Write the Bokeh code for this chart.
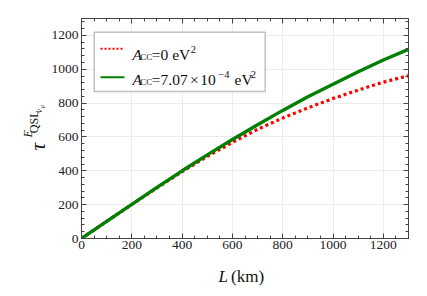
import numpy as np
from bokeh.plotting import figure
from bokeh.models import (LinearAxis, Label, BoxAnnotation, Arrow, FixedTicker,
                          Range1d)
from bokeh.embed import file_html
from bokeh.resources import INLINE

# ---- data ----
L_km = [0, 100, 200, 300, 400, 500, 600, 700, 800, 900, 1000, 1100, 1200, 1300]
tau_A0 = [0, 101, 201, 299, 395, 485, 568, 645, 712, 772, 827, 877, 924, 962]
tau_A707 = [0, 101, 202, 302, 400, 494, 585, 672, 757, 838, 912, 985, 1055, 1118]

x_ticks = [0, 200, 400, 600, 800, 1000, 1200]
y_ticks = [0, 200, 400, 600, 800, 1000, 1200]

SERIF = "Liberation Serif"

p = figure(width=427, height=296, output_backend="svg", toolbar_location=None,
           x_range=Range1d(0, 1300), y_range=Range1d(0, 1300),
           min_border_left=81, min_border_right=19, min_border_top=18,
           min_border_bottom=58)
p.background_fill_color = "white"
p.border_fill_color = "white"
p.outline_line_color = "#444444"
p.outline_line_width = 1

xt = FixedTicker(ticks=x_ticks, minor_ticks=list(range(0, 1301, 50)))
yt = FixedTicker(ticks=y_ticks, minor_ticks=list(range(0, 1301, 40)))

for ax in p.xaxis:
    ax.ticker = xt
for ax in p.yaxis:
    ax.ticker = yt

def style_axis(ax):
    ax.axis_line_color = "#444444"
    ax.major_tick_line_color = "#444444"
    ax.minor_tick_line_color = "#444444"
    ax.major_tick_in = 5
    ax.major_tick_out = 0
    ax.minor_tick_in = 3
    ax.minor_tick_out = 0
    ax.major_label_text_font = SERIF
    ax.major_label_text_font_size = "13.5px"
    ax.major_label_text_color = "#222222"
    ax.major_label_standoff = 3

style_axis(p.xaxis[0])
style_axis(p.yaxis[0])
p.xaxis[0].major_label_standoff = 2

top = LinearAxis(ticker=xt)
right = LinearAxis(ticker=yt)
style_axis(top)
style_axis(right)
top.major_label_overrides = {t: "" for t in x_ticks}
right.major_label_overrides = {t: "" for t in y_ticks}
top.major_label_standoff = 0
right.major_label_standoff = 0
p.add_layout(top, "above")
p.add_layout(right, "right")

p.xgrid.ticker = xt
p.ygrid.ticker = yt
p.xgrid.grid_line_color = "#ececec"
p.ygrid.grid_line_color = "#ececec"

# ---- curves ----
p.line(L_km, tau_A0, line_color="#ff0000", line_width=3.2, line_dash="3 3")
p.line(L_km, tau_A707, line_color="#008000", line_width=3.4)

# ---- legend (manual, for rich text) ----
p.add_layout(BoxAnnotation(left=12.7, right=183.7, bottom=147, top=206.3,
                           left_units="screen", right_units="screen",
                           top_units="screen", bottom_units="screen",
                           fill_color="white", fill_alpha=1.0,
                           line_color="#333333", line_width=1.5))
p.add_layout(Arrow(x_start=19, y_start=189.7, x_end=43, y_end=189.7,
                   start_units="screen", end_units="screen", end=None,
                   line_color="#ff0000", line_width=2, line_dash="2 2"))
p.add_layout(Arrow(x_start=19, y_start=161.3, x_end=43, y_end=161.3,
                   start_units="screen", end_units="screen", end=None,
                   line_color="#008000", line_width=2))

def lab(x, y, text, size, style="normal", angle=0.0, place="center"):
    l = Label(x=x, y=y, x_units="canvas", y_units="canvas", text=text,
              text_font=SERIF, text_font_size=f"{size}px",
              text_font_style=style, text_color="#111111", angle=angle,
              text_align="left", text_baseline="alphabetic")
    if place == "center":
        p.add_layout(l)
    else:
        p.add_layout(l, place)

FS, SS = 15.5, 9
# row 1
lab(132.0, 53.5, "A", FS, "italic")
lab(139.8, 56.0, "CC", SS)
lab(151.3, 53.5, "=0 eV", FS)
lab(190.3, 48.5, "2", 10.5)
# row 2
lab(132.0, 79.0, "A", FS, "italic")
lab(139.8, 81.5, "CC", SS)
lab(151.3, 79.0, "=7.07", FS)
lab(189.5, 79.0, "×", FS)
lab(199.7, 79.0, "10", FS)
lab(217.8, 74.0, "−4", 10.5)
lab(234.0, 79.0, "eV", FS)
lab(250.3, 74.0, "2", 10.5)

# ---- axis titles (in side panels so they are not clipped) ----
lab(218, 276, "L", 17, "italic", place="below")
lab(230.5, 276, "(km)", 17, place="below")

A = np.pi / 2
lab(37.5, 150, "τ", 21, "italic", angle=A, place="left")
lab(27, 137, "E", 12, "italic", angle=A, place="above")
lab(33, 132.7, "QSL", 12, angle=A, place="left")
lab(38, 112.5, "ν", 9, "italic", angle=A, place="right")
lab(41.5, 107.5, "μ", 6, "italic", angle=A, place="right")

open("out.html", "w").write(file_html(p, INLINE))
